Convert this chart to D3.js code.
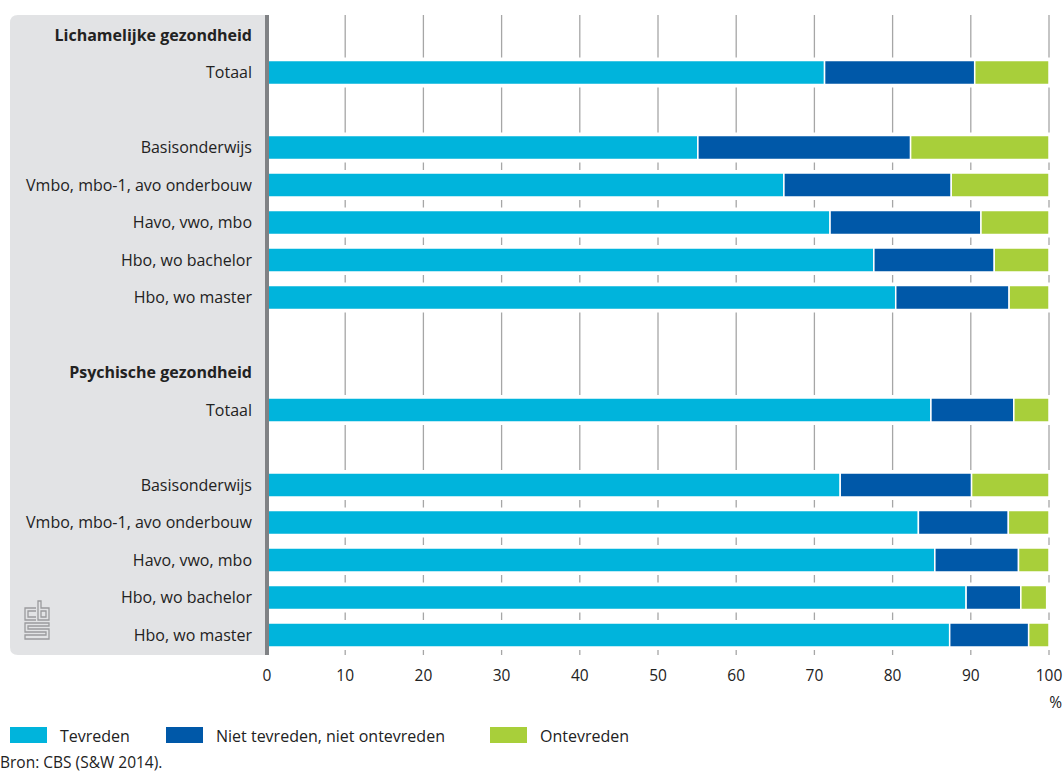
<!DOCTYPE html>
<html><head><meta charset="utf-8">
<script src="https://cdn.jsdelivr.net/npm/d3@7"></script>
<style>body{margin:0;background:#fff}svg{display:block}text{font-family:"Open Sans",sans-serif;fill:#222}</style>
</head><body><svg id="c" width="1064" height="773"></svg>
<script>
const rows = ["Lichamelijke gezondheid","Totaal","","Basisonderwijs","Vmbo, mbo-1, avo onderbouw","Havo, vwo, mbo","Hbo, wo bachelor","Hbo, wo master","","Psychische gezondheid","Totaal","","Basisonderwijs","Vmbo, mbo-1, avo onderbouw","Havo, vwo, mbo","Hbo, wo bachelor","Hbo, wo master"];
const headerRows = [0, 9];
const barRows = [1,3,4,5,6,7,10,12,13,14,15,16];
const tevreden = [71.3,55.1,66.1,72.0,77.6,80.4,84.9,73.3,83.3,85.4,89.4,87.3];
const neutraal = [19.2,27.2,21.4,19.3,15.4,14.5,10.6,16.8,11.5,10.7,7.0,10.1];
const ontevreden = [9.5,17.7,12.5,8.7,7.0,5.1,4.5,9.9,5.2,3.9,3.3,2.6];
const seriesNames = ["Tevreden","Niet tevreden, niet ontevreden","Ontevreden"];
const colors = ["#00b4dc","#0058a8","#a8cf3a"];
const ticks = [0,10,20,30,40,50,60,70,80,90,100];

const svg = d3.select("#c");
const x = d3.scaleLinear().domain([0,100]).range([267,1049]);
const y = d3.scaleBand().domain(d3.range(rows.length)).range([16.25,653.75]).paddingInner(0.36).paddingOuter(0.18);

// left panel
const px0 = 10, px1 = 267, py0 = 15, py1 = 655, r = 8;
svg.append("path").attr("fill","#e2e3e5")
  .attr("d",`M${px1},${py0} L${px0+r},${py0} Q${px0},${py0} ${px0},${py0+r} L${px0},${py1-r} Q${px0},${py1} ${px0+r},${py1} L${px1},${py1} Z`);

// gridlines
svg.append("g").selectAll("line").data(ticks.slice(1)).join("line")
  .attr("x1",d=>x(d)).attr("x2",d=>x(d)).attr("y1",py0).attr("y2",py1)
  .attr("stroke","#a6a6a6").attr("stroke-width",1.3);

// white gaps behind bars
svg.append("g").selectAll("rect").data(barRows).join("rect")
  .attr("x",x(0)).attr("width",x(100)-x(0)+3)
  .attr("y",d=>y(d)-3).attr("height",y.bandwidth()+6).attr("fill","#fff");

// stacked bars
const data = barRows.map((row,i)=>({row, vals:[tevreden[i],neutraal[i],ontevreden[i]]}));
const stack = d3.stack().keys([0,1,2]).value((d,k)=>d.vals[k]);
const series = stack(data);
svg.append("g").selectAll("g").data(series).join("g").attr("fill",(d,i)=>colors[i])
  .selectAll("rect").data(d=>d).join("rect")
  .attr("x",d=>x(d[0])).attr("width",d=>Math.max(0,x(Math.min(100,d[1]))-x(d[0])))
  .attr("y",d=>y(d.data.row)).attr("height",y.bandwidth())
  .attr("stroke","#fff").attr("stroke-width",1.5);

// axis line
svg.append("rect").attr("x",265).attr("y",py0).attr("width",4).attr("height",py1-py0).attr("fill","#808285");

// row labels
svg.append("g").selectAll("text").data(rows.map((t,i)=>({t,i})).filter(d=>d.t!=="")).join("text")
  .attr("x",252).attr("y",d=>y(d.i)+y.bandwidth()/2).attr("dy","0.35em")
  .attr("text-anchor","end").attr("font-size",16)
  .attr("font-weight",d=>headerRows.includes(d.i)?700:400)
  .text(d=>d.t);

// x tick labels
svg.append("g").selectAll("text").data(ticks).join("text")
  .attr("x",d=>x(d)).attr("y",681).attr("text-anchor","middle").attr("font-size",15.5).text(d=>d);
svg.append("text").attr("x",1062).attr("y",708).attr("text-anchor","end").attr("font-size",15.5).text("%");

// legend
const legX = [10,166,490];
const lg = svg.append("g").selectAll("g").data(seriesNames).join("g");
lg.append("rect").attr("x",(d,i)=>legX[i]).attr("y",727).attr("width",37).attr("height",16).attr("fill",(d,i)=>colors[i]);
lg.append("text").attr("x",(d,i)=>legX[i]+50).attr("y",742).attr("font-size",16).text(d=>d);

// source
svg.append("text").attr("x",0).attr("y",768).attr("font-size",15.5).text("Bron: CBS (S&W 2014).");

// logo (simplified)
const logo = svg.append("g").attr("fill","none").attr("stroke","#9a9b9d").attr("stroke-width",1.3);
logo.append("path").attr("d","M36,608 H25 V620 H36 M36,611 H28 V617 H36");
logo.append("path").attr("d","M38,601 V620 H49 V608 H41 V601 Z M41,611 H46 V617 H41 Z");
logo.append("path").attr("d","M49,623 H25 V632 H46 V635 H25 V639 H49 V629 H28 V626 H49 Z");
</script></body></html>
